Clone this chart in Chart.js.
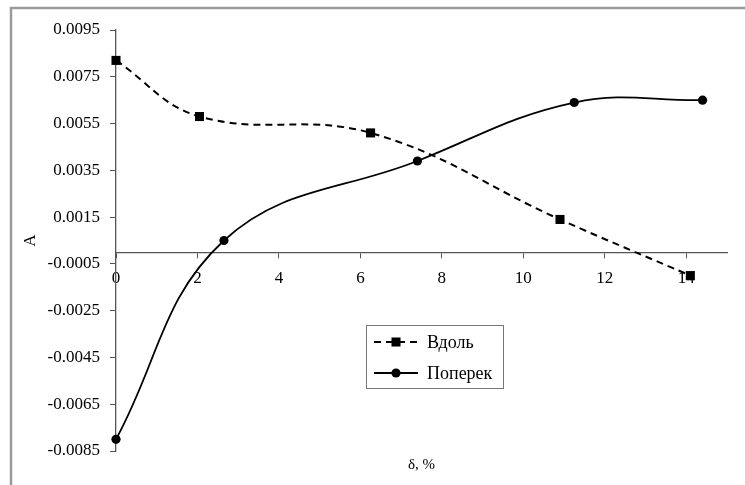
<!DOCTYPE html>
<html>
<head>
<meta charset="utf-8">
<script src="https://cdn.jsdelivr.net/npm/chart.js@4/dist/chart.umd.min.js"></script>
<style>
  html, body { margin: 0; padding: 0; background: #fff; }
  #wrap { width: 745px; height: 485px; position: relative; }
</style>
</head>
<body>
<div id="wrap"><canvas id="graph" width="745" height="485"></canvas></div>
<script>
// data
var vdolX = [0, 2.05, 6.25, 10.9, 14.1];
var vdolY = [0.0082, 0.0058, 0.0051, 0.0014, -0.0010];
var poperekX = [0, 2.65, 7.4, 11.25, 14.4];
var poperekY = [-0.0080, 0.0005, 0.0039, 0.0064, 0.0065];
var xTicks = [0, 2, 4, 6, 8, 10, 12, 14];
var yTicks = [-0.0085, -0.0065, -0.0045, -0.0025, -0.0005, 0.0015, 0.0035, 0.0055, 0.0075, 0.0095];
var seriesNames = ['Вдоль', 'Поперек'];

var serif = "'Liberation Serif', 'Times New Roman', serif";

function toPoints(xs, ys) {
  var pts = [];
  for (var i = 0; i < xs.length; i++) pts.push({ x: xs[i], y: ys[i] });
  return pts;
}

// outer frame like the excel chart area
var framePlugin = {
  id: 'frame',
  beforeDraw: function (chart) {
    var ctx = chart.ctx;
    ctx.save();
    ctx.strokeStyle = '#9a9a9a';
    ctx.lineWidth = 2.5;
    ctx.strokeRect(11, 8, 800, 600);
    ctx.restore();
  }
};

// boxed legend inside the plot
var boxLegend = {
  id: 'boxLegend',
  afterDraw: function (chart) {
    var ctx = chart.ctx;
    var left = 366, top = 325, w = 137, h = 63;
    ctx.save();
    ctx.fillStyle = '#fff';
    ctx.fillRect(left, top, w, h);
    ctx.strokeStyle = '#777';
    ctx.lineWidth = 1;
    ctx.strokeRect(left + 0.5, top + 0.5, w, h);
    chart.data.datasets.forEach(function (ds, i) {
      var cy = top + 17 + i * 31;
      ctx.strokeStyle = ds.borderColor;
      ctx.lineWidth = ds.borderWidth;
      ctx.setLineDash(ds.borderDash || []);
      ctx.beginPath();
      ctx.moveTo(left + 8, cy);
      ctx.lineTo(left + 52, cy);
      ctx.stroke();
      ctx.setLineDash([]);
      ctx.fillStyle = ds.pointBackgroundColor;
      Chart.helpers.drawPoint(ctx, { pointStyle: ds.pointStyle, radius: ds.pointRadius, borderWidth: 0 }, left + 30, cy);
      ctx.fillStyle = '#000';
      ctx.font = '18px ' + serif;
      ctx.textBaseline = 'middle';
      ctx.fillText(ds.label, left + 61, cy + 1);
    });
    ctx.restore();
  }
};

var data = {
  datasets: [
    {
      label: seriesNames[0],
      data: toPoints(vdolX, vdolY),
      borderColor: '#000',
      borderWidth: 2,
      borderDash: [7, 5],
      pointStyle: 'rect',
      pointRadius: 6.4,
      pointBackgroundColor: '#000',
      pointBorderWidth: 0,
      tension: 0.4,
      clip: false
    },
    {
      label: seriesNames[1],
      data: toPoints(poperekX, poperekY),
      borderColor: '#000',
      borderWidth: 1.8,
      pointStyle: 'circle',
      pointRadius: 4.6,
      pointBackgroundColor: '#000',
      pointBorderWidth: 0,
      tension: 0.4,
      clip: false
    }
  ]
};

var options = {
  responsive: false,
  animation: false,
  layout: { padding: { top: 30, right: 18, left: 0, bottom: 0 } },
  plugins: {
    legend: { display: false },
    tooltip: { enabled: false },
    title: {
      display: true,
      position: 'bottom',
      fullSize: false,
      text: 'δ, %',
      color: '#000',
      font: { family: serif, size: 15, weight: 'normal' },
      padding: { top: 5, bottom: 11 }
    }
  },
  scales: {
    x: {
      type: 'linear',
      position: { y: 0 },
      min: 0,
      max: 15,
      afterBuildTicks: function (s) { s.ticks = xTicks.map(function (v) { return { value: v }; }); },
      grid: { drawOnChartArea: false, drawTicks: true, tickLength: 5, color: '#555' },
      border: { color: '#555', width: 1.3 },
      ticks: { color: '#000', padding: 11, maxRotation: 0, font: { family: serif, size: 17 } }
    },
    y: {
      min: -0.0085,
      max: 0.0095,
      afterBuildTicks: function (s) { s.ticks = yTicks.map(function (v) { return { value: v }; }); },
      afterFit: function (s) { s.width = 116; },
      grid: { drawOnChartArea: false, drawTicks: true, tickLength: 6, color: '#555' },
      border: { color: '#555', width: 1.3 },
      title: {
        display: true,
        text: 'A',
        color: '#000',
        font: { family: serif, size: 17 },
        padding: { top: 20 }
      },
      ticks: {
        color: '#000',
        padding: 10,
        font: { family: serif, size: 17 },
        callback: function (v) { return v.toFixed(4); }
      }
    }
  }
};

var ctx = document.getElementById('graph');
var myChart = new Chart(ctx, {
  type: 'line',
  data: data,
  options: options,
  plugins: [framePlugin, boxLegend]
});
</script>
</body>
</html>
